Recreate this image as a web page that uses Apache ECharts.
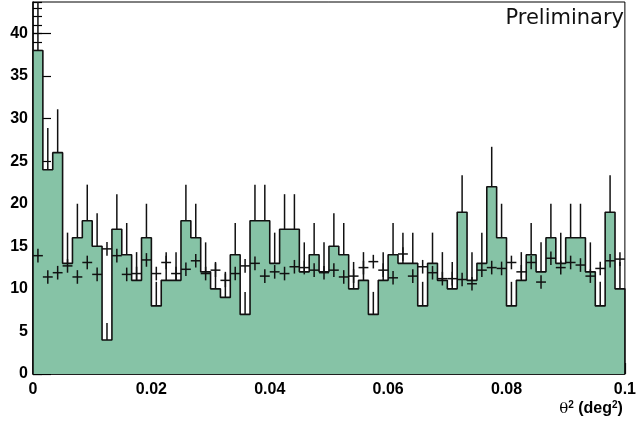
<!DOCTYPE html>
<html>
<head>
<meta charset="utf-8">
<script src="https://cdn.jsdelivr.net/npm/echarts@6/dist/echarts.min.js"></script>
<style>
  html, body { margin: 0; padding: 0; background: #fff; }
  #chart { width: 639px; height: 421px; }
</style>
</head>
<body>
<div id="chart"></div>
<script>
// theta^2 histogram: 60 bins from 0 to 0.1 deg^2
const xMin = 0;
const xMax = 0.1;
const nBins = 60;

// ON counts (filled histogram)
const onCounts = [
  38, 24, 26, 13, 16, 18, 15, 4, 17, 14,
  11, 16, 8, 11, 11, 18, 16, 12, 10, 9,
  14, 7, 18, 18, 13, 17, 17, 12, 14, 12,
  15, 14, 10, 11, 7, 11, 14, 13, 13, 8,
  13, 11, 10, 19, 11, 13, 22, 16, 8, 11,
  14, 12, 16, 13, 16, 16, 12, 8, 19, 10
];

// normalised OFF counts (crosses)
const offValues = [
  13.9, 11.4, 11.9, 12.7, 11.4, 13.1, 11.7, 14.7, 13.9, 11.7,
  11.8, 13.4, 11.8, 13.1, 11.8, 12.3, 13.3, 11.8, 12.2, 11.0,
  11.8, 12.7, 13.0, 11.5, 12.0, 11.8, 12.6, 12.5, 12.2, 11.9,
  12.2, 11.4, 11.5, 12.5, 13.2, 12.2, 11.3, 14.1, 11.5, 12.6,
  11.9, 11.2, 11.2, 11.1, 10.6, 12.2, 12.5, 12.4, 13.1, 12.0,
  13.1, 10.8, 13.6, 12.5, 13.1, 12.8, 11.5, 12.4, 13.3, 13.5
];
const offErr = 0.8;

const xTicks = [0, 0.02, 0.04, 0.06, 0.08, 0.1];

const binW = (xMax - xMin) / nBins;

// step outline for the ON histogram
const stepPts = [[xMin, 0]];
onCounts.forEach((n, i) => {
  stepPts.push([xMin + i * binW, n]);
  stepPts.push([xMin + (i + 1) * binW, n]);
});
stepPts.push([xMax, 0]);

const markRows = onCounts.map((n, i) => [xMin + (i + 0.5) * binW, n, offValues[i]]);

const myChart = echarts.init(document.getElementById('chart'), null, { renderer: 'canvas' });

const labelFont = { fontFamily: 'Liberation Sans', fontWeight: 'bold', fontSize: 16, color: '#000' };

myChart.setOption({
  animation: false,
  backgroundColor: '#fff',
  grid: { left: 33, right: 8, top: 2, bottom: 47, show: true, borderColor: '#000', borderWidth: 1 },
  xAxis: {
    type: 'value', min: xMin, max: xMax, interval: 0.02,
    axisLine: { lineStyle: { color: '#000', width: 1.5 } },
    axisTick: { inside: true, length: 11, lineStyle: { color: '#000', width: 1.2 } },
    minorTick: { show: true, splitNumber: 4, length: 6, lineStyle: { color: '#000', width: 1.2 } },
    splitLine: { show: false },
    axisLabel: Object.assign({ margin: 8, formatter: v => xTicks.some(t => Math.abs(t - v) < 1e-9) ? String(+v.toFixed(2)) : '' }, labelFont),
    name: '{t|θ}{s|2}{b| (deg}{s|2}{b|)}',
    nameLocation: 'end',
    nameGap: 0,
    nameTextStyle: {
      align: 'right', verticalAlign: 'top', padding: [26, 2, 0, 0],
      rich: {
        t: { fontFamily: 'DejaVu Serif', fontSize: 15, color: '#000', lineHeight: 18 },
        b: { fontFamily: 'Liberation Sans', fontWeight: 'bold', fontSize: 16, color: '#000', lineHeight: 18 },
        s: { fontFamily: 'Liberation Sans', fontWeight: 'bold', fontSize: 10, color: '#000', lineHeight: 10, verticalAlign: 'top' }
      }
    }
  },
  yAxis: [{
    type: 'value', min: 0, max: 43.7, interval: 5,
    axisLine: { show: true, lineStyle: { color: '#000', width: 1.5 } },
    axisTick: { inside: true, length: 18, lineStyle: { color: '#000', width: 1.2 } },
    splitLine: { show: false },
    axisLabel: Object.assign({ margin: 5, showMaxLabel: false, formatter: v => v > 40 ? '' : v }, labelFont)
  }, {
    type: 'value', min: 0, max: 43.7, interval: 1, position: 'left',
    axisLine: { show: false },
    axisTick: { show: true, inside: true, length: 9, lineStyle: { color: '#000', width: 1.2 } },
    splitLine: { show: false },
    axisLabel: { show: false }
  }],
  graphic: [{
    type: 'text', right: 15, top: 8,
    style: { text: 'Preliminary', font: '21px "DejaVu Sans"', fill: '#111' }
  }],
  series: [{
    type: 'line',
    data: stepPts,
    showSymbol: false,
    symbol: 'none',
    lineStyle: { color: '#111', width: 1.6 },
    areaStyle: { color: '#86c3a6', opacity: 1 },
    z: 2
  }, {
    type: 'custom',
    data: markRows,
    clip: true,
    encode: { x: 0, y: 1 },
    z: 3,
    renderItem: (params, api) => {
      const xc = api.value(0);
      const n = api.value(1);
      const off = api.value(2);
      const top = api.coord([xc, n + Math.sqrt(n)]);
      const base = api.coord([xc, n]);
      const l = api.coord([xc - binW / 2, off]);
      const r = api.coord([xc + binW / 2, off]);
      const lo = api.coord([xc, off - offErr]);
      const hi = api.coord([xc, off + offErr]);
      const st = { stroke: '#111', lineWidth: 1.5 };
      return {
        type: 'group',
        children: [
          { type: 'line', shape: { x1: base[0], y1: base[1], x2: top[0], y2: top[1] }, style: st },
          { type: 'line', shape: { x1: l[0], y1: l[1], x2: r[0], y2: r[1] }, style: st },
          { type: 'line', shape: { x1: lo[0], y1: lo[1], x2: hi[0], y2: hi[1] }, style: st }
        ]
      };
    }
  }]
});
window.addEventListener('resize', () => myChart.resize());
</script>
</body>
</html>
